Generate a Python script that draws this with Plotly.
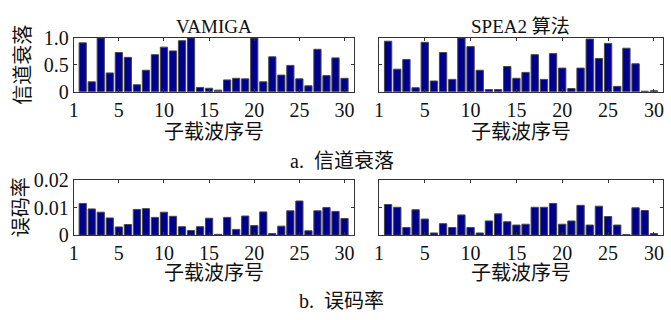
import plotly.graph_objects as go

subcarriers = list(range(1, 31))

vamiga_fading = [0.91, 0.185, 1.0, 0.35, 0.73, 0.64, 0.13, 0.40, 0.69, 0.83,
                 0.76, 0.95, 1.0, 0.08, 0.065, 0.03, 0.22, 0.25, 0.24, 1.0,
                 0.185, 0.65, 0.31, 0.49, 0.24, 0.11, 0.79, 0.30, 0.63, 0.25]
spea2_fading = [0.94, 0.42, 0.60, 0.075, 0.92, 0.20, 0.73, 0.23, 1.0, 0.84,
                0.40, 0.04, 0.04, 0.47, 0.25, 0.36, 0.69, 0.23, 0.71, 0.44,
                0.06, 0.44, 0.98, 0.62, 0.90, 0.10, 0.81, 0.52, 0.01, 0.02]
vamiga_ber = [0.0116, 0.0096, 0.0084, 0.0063, 0.0030, 0.0039, 0.0094, 0.0097, 0.0065, 0.0084,
              0.0069, 0.0031, 0.0017, 0.0031, 0.0062, 0.0003, 0.0065, 0.0021, 0.0070, 0.0035,
              0.0085, 0.0006, 0.0033, 0.0089, 0.0125, 0.0016, 0.0089, 0.0101, 0.0087, 0.0061]
spea2_ber = [0.0112, 0.0102, 0.0028, 0.0093, 0.0059, 0.0008, 0.0042, 0.0028, 0.0074, 0.0028,
             0.0008, 0.0052, 0.0078, 0.0049, 0.0037, 0.0040, 0.0102, 0.0102, 0.0116, 0.0040,
             0.0052, 0.0109, 0.0037, 0.0106, 0.0068, 0.0037, 0.0002, 0.0100, 0.0090, 0.0006]

x_tickvals = [0, 5, 10, 15, 20, 25, 30]
x_ticktext = ["1", "5", "10", "15", "20", "25", "30"]
fading_ticks = [0, 0.5, 1.0]
fading_ticktext = ["0", "0.5", "1.0"]
ber_ticks = [0, 0.01, 0.02]
ber_ticktext = ["0", "0.01", "0.02"]

titles = ["VAMIGA", "SPEA2 算法"]
xlabel = "子载波序号"
ylabels = ["信道衰落", "误码率"]
captions = ["a.  信道衰落", "b.  误码率"]

W, H = 671, 320
FONT = "Liberation Serif, Times New Roman, Noto Sans CJK SC, serif"
BAR = "#00008F"
EDGE = "#4a4a4a"

fig = go.Figure()
series = [(vamiga_fading, "x", "y"), (spea2_fading, "x2", "y2"),
          (vamiga_ber, "x3", "y3"), (spea2_ber, "x4", "y4")]
for vals, xa, ya in series:
    fig.add_trace(go.Bar(x=subcarriers, y=vals, xaxis=xa, yaxis=ya,
                         marker=dict(color=BAR, line=dict(color=EDGE, width=1)),
                         width=0.8, showlegend=False))

def px(x):
    return x / W

def py(y):
    return 1 - y / H

xdom_l = [px(69.3), px(351.7)]
xdom_r = [px(377.3), px(664)]
ydom_t = [py(86.7), py(29)]
ydom_b = [py(240.7), py(182)]

axcommon = dict(showline=True, linecolor="#333", linewidth=1, mirror="allticks",
                ticks="inside", ticklen=3, tickcolor="#333", showgrid=False,
                zeroline=False, tickfont=dict(family=FONT, size=20, color="#111"))

xa = dict(range=[0, 31], tickvals=x_tickvals, ticktext=x_ticktext, **axcommon)
layout = dict(
    width=W, height=H, margin=dict(l=0, r=0, t=0, b=0),
    paper_bgcolor="white", plot_bgcolor="white", bargap=0.2,
    font=dict(family=FONT, size=18, color="#111"),
    xaxis=dict(domain=xdom_l, anchor="y", **xa),
    xaxis2=dict(domain=xdom_r, anchor="y2", **xa),
    xaxis3=dict(domain=xdom_l, anchor="y3", **xa),
    xaxis4=dict(domain=xdom_r, anchor="y4", **xa),
    yaxis=dict(domain=ydom_t, anchor="x", range=[0, 1.0], tickvals=fading_ticks,
               ticktext=fading_ticktext, **axcommon),
    yaxis2=dict(domain=ydom_t, anchor="x2", range=[0, 1.0], tickvals=fading_ticks,
                showticklabels=False, **axcommon),
    yaxis3=dict(domain=ydom_b, anchor="x3", range=[0, 0.02], tickvals=ber_ticks,
                ticktext=ber_ticktext, **axcommon),
    yaxis4=dict(domain=ydom_b, anchor="x4", range=[0, 0.02], tickvals=ber_ticks,
                showticklabels=False, **axcommon),
)
fig.update_layout(**layout)

ann = []
def text(t, x, y, size=19, angle=0):
    ann.append(dict(text=t, x=px(x), y=py(y), xref="paper", yref="paper",
                    xanchor="center", yanchor="middle", showarrow=False,
                    textangle=angle, font=dict(family=FONT, size=size, color="#111")))

text(titles[0], 210.5, 17)
text(titles[1], 520.5, 17)
text(xlabel, 210.5, 130, size=20)
text(xlabel, 520.5, 130, size=20)
text(xlabel, 210.5, 281.5, size=20)
text(xlabel, 520.5, 281.5, size=20)
text(ylabels[0], 18, 58, size=20, angle=-90)
text(ylabels[1], 17, 211, size=20, angle=-90)
text(captions[0], 340, 161, size=20)
text(captions[1], 340, 311, size=20)
fig.update_layout(annotations=ann)

fig.write_html("out.html")
